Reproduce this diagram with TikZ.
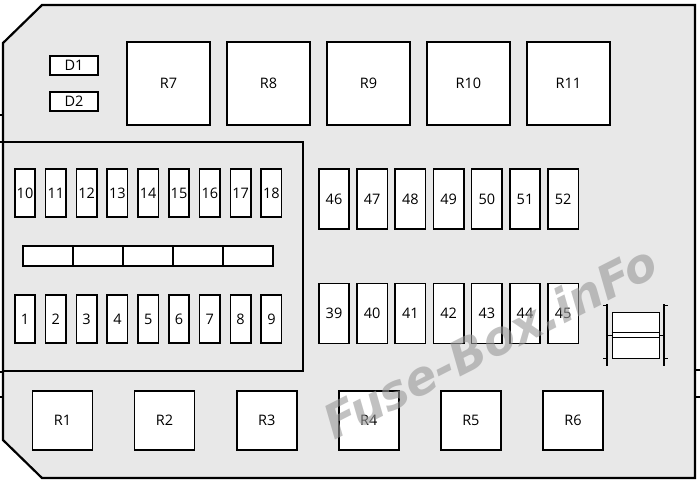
\documentclass[tikz,border=0pt]{standalone}
\usepackage{fontspec}
\setmainfont{Open Sans}
\newfontfamily\wmfont{DejaVu Sans}
\definecolor{boxgray}{HTML}{E8E8E8}
\definecolor{wmgray}{HTML}{999999}
\begin{document}
\begin{tikzpicture}[x=1pt,y=-1pt,
  box/.style={draw=black,fill=white,line width=1.6pt,inner sep=0pt,font=\fontsize{14.5}{14.5}\selectfont},
  relay/.style={box,minimum width=83pt,minimum height=83pt},
  brelay/.style={box,minimum width=60pt,minimum height=59pt},
  dbox/.style={box,minimum width=48pt,minimum height=19pt},
  sfuse/.style={box,minimum width=20.5pt,minimum height=48.5pt},
  mfuse/.style={box,minimum width=30.5pt,minimum height=60pt},
  barseg/.style={box,minimum width=50pt,minimum height=20.5pt},
  thin/.style={line width=1.2pt}]
\useasboundingbox (0,0) rectangle (700,483);
% outline
\draw[line width=2.2pt,fill=boxgray] (3,43) -- (42,5) -- (695,5) -- (695,478) -- (42,478) -- (3,440) -- cycle;
% edge marks
\draw[thin] (0,115) -- (3,115);
\draw[thin] (0,397) -- (3,397);
\draw[thin] (0,142) -- (3,142);
\draw[thin] (0,372) -- (3,372);
\draw[line width=1.8pt] (695,370) -- (700,370) (695,397) -- (700,397);
% inner panel
\draw[thin] (3,142) rectangle (303,371);
% D
\node[dbox] (D1) at (74,65.5) {D1};
\node[dbox] (D2) at (74,101.5) {D2};
% top relays
\foreach \n [count=\i from 0] in {7,8,9,10,11}
  \node[relay] (R\n) at ({168.5+100*\i},83.5) {R\n};
% small fuses
\foreach \n [count=\i from 0] in {10,...,18}
  \node[sfuse] (F\n) at ({25+30.8*\i},193) {\n};
\foreach \n [count=\i from 0] in {1,...,9}
  \node[sfuse] (F\n) at ({25+30.8*\i},319) {\n};
% bar
\foreach \i in {0,...,4}
  \node[barseg] (B\i) at ({48+50*\i},256) {};
% right fuses
\foreach \n [count=\i from 0] in {46,...,52}
  \node[mfuse] (F\n) at ({334+38.2*\i},199) {\n};
\foreach \n [count=\i from 0] in {39,...,45}
  \node[mfuse] (F\n) at ({334+38.2*\i},313.5) {\n};
% bottom relays
\foreach \n [count=\i from 0] in {1,...,6}
  \node[brelay] (R\n) at ({62.5+102.1*\i},420.5) {R\n};
% connector
\node[draw=black,fill=white,line width=1pt,minimum width=47pt,minimum height=46pt,inner sep=0pt] (CN) at (635.5,335) {};
\draw[line width=1pt] (CN.west |- 0,332) -- (CN.east |- 0,332) (CN.west |- 0,337) -- (CN.east |- 0,337);
\draw[line width=1.2pt] (607,304) -- (607,366) (664,304) -- (664,366);
\draw[line width=0.9pt] (603,305) -- (607,305) (603,358) -- (607,358) (664,305) -- (668,305) (664,358) -- (668,358);
\draw[line width=0.9pt] (607,335) -- (CN.west) (664,335) -- (CN.east);
% watermark
\node[rotate=27,text=wmgray,text opacity=0.6,font=\wmfont\fontsize{47}{47}\bfseries\itshape] (WM) at (490,342) {Fuse-Box.inFo};
\end{tikzpicture}
\end{document}
